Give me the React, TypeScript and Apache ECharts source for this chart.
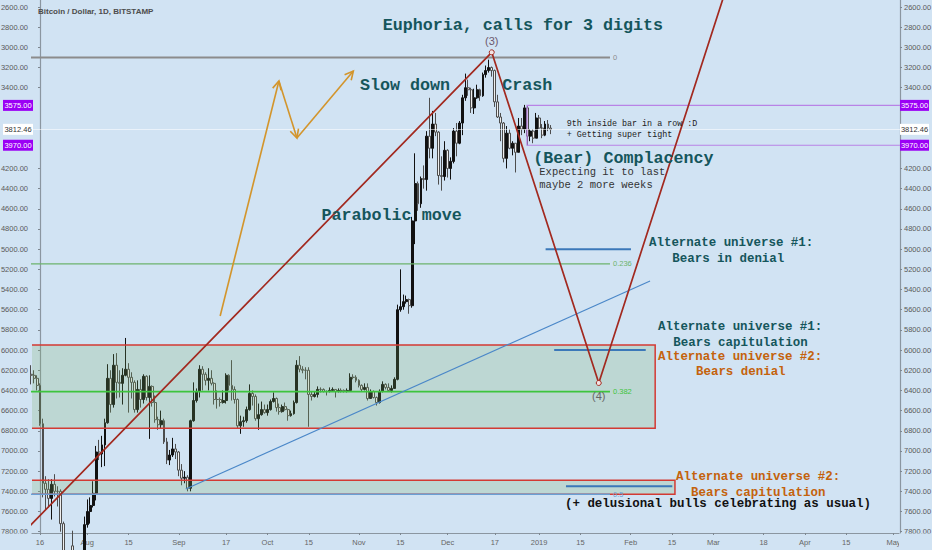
import React, { useEffect, useRef } from "react";
import * as echarts from "echarts";

// ---- scale (day 0 = 16 Jul 2018) ----
const X_MIN = -2.71;
const X_MAX = 291.2;
const Y_MIN = 2530.6;
const Y_MAX = 7812.9;

// ---- daily candles [open, close, low, high] ----
const julStartDay = -3; // 13 Jul 2018
const julOHLC = [
  [6240, 6250, 6150, 6340], [6250, 6280, 6200, 6330], [6280, 6350, 6250, 6400],
  [6350, 6730, 6330, 6750], [6730, 7320, 6680, 7460], [7320, 7380, 7250, 7580],
  [7380, 7470, 7280, 7560], [7470, 7330, 7280, 7680], [7330, 7400, 7230, 7450],
  [7400, 7400, 7350, 7550], [7400, 7720, 7380, 7800], [7720, 8400, 7700, 8480],
  [8400, 8170, 8050, 8480], [8170, 7940, 7860, 8300], [7940, 8190, 7790, 8280],
  [8190, 8230, 8100, 8250], [8230, 8210, 8130, 8300], [8210, 8170, 7860, 8260],
  [8170, 7730, 7650, 8180],
];
const augStartDay = 16;
const augOHLC = [
  [7730, 7600, 7480, 7760], [7600, 7540, 7460, 7720], [7540, 7420, 7300, 7560],
  [7420, 7010, 6950, 7490], [7010, 7030, 6890, 7090], [7030, 6940, 6850, 7160],
  [6940, 6720, 6680, 7150], [6720, 6280, 6140, 6730], [6280, 6540, 6200, 6620],
  [6540, 6150, 6040, 6570], [6150, 6320, 6030, 6480], [6320, 6330, 6200, 6470],
  [6330, 6250, 6180, 6540], [6250, 6190, 5880, 6260], [6190, 6270, 6130, 6620],
  [6270, 6320, 6220, 6480], [6320, 6590, 6300, 6620], [6590, 6390, 6300, 6620],
  [6390, 6490, 6290, 6570], [6490, 6260, 6240, 6530], [6260, 6470, 6250, 6500],
  [6470, 6360, 6250, 6880], [6360, 6520, 6350, 6560], [6520, 6690, 6450, 6720],
  [6690, 6740, 6660, 6790], [6740, 6700, 6600, 6780], [6700, 6910, 6680, 6930],
  [6910, 7090, 6870, 7130], [7090, 7040, 6990, 7140], [7040, 6980, 6870, 7060],
  [6980, 7010, 6930, 7080],
];
const sepStartDay = 47;
const sepOHLC = [
  [7010, 7190, 7000, 7250], [7190, 7270, 7130, 7340], [7270, 7260, 7200, 7320],
  [7260, 7370, 7240, 7400], [7370, 6700, 6690, 7400], [6700, 6500, 6320, 6710],
  [6500, 6410, 6380, 6520], [6410, 6190, 6150, 6470], [6190, 6240, 6160, 6400],
  [6240, 6300, 6220, 6350], [6300, 6280, 6180, 6400], [6280, 6330, 6200, 6350],
  [6330, 6490, 6320, 6540], [6490, 6490, 6400, 6580], [6490, 6520, 6470, 6560],
  [6520, 6500, 6400, 6530], [6500, 6250, 6230, 6530], [6250, 6350, 6240, 6400],
  [6350, 6390, 6100, 6500], [6390, 6490, 6360, 6530], [6490, 6750, 6480, 6780],
  [6750, 6710, 6650, 6830], [6710, 6700, 6660, 6760], [6700, 6590, 6560, 6720],
  [6590, 6430, 6340, 6600], [6430, 6460, 6400, 6550], [6460, 6680, 6440, 6700],
  [6680, 6640, 6530, 6790], [6640, 6590, 6510, 6650], [6590, 6620, 6540, 6630],
];
const octStartDay = 77;
const octOHLC = [
  [6620, 6590, 6540, 6650], [6590, 6510, 6490, 6600], [6510, 6480, 6420, 6520],
  [6480, 6570, 6470, 6610], [6570, 6610, 6530, 6640], [6610, 6560, 6540, 6620],
  [6560, 6590, 6520, 6600], [6590, 6650, 6580, 6700], [6650, 6630, 6600, 6660],
  [6630, 6520, 6500, 6640], [6520, 6150, 6100, 6530], [6150, 6190, 6060, 6220],
  [6190, 6200, 6160, 6230], [6200, 6200, 6170, 6290], [6200, 6440, 6170, 6760],
  [6440, 6460, 6410, 6500], [6460, 6440, 6410, 6470], [6440, 6390, 6360, 6470],
  [6390, 6390, 6370, 6420], [6390, 6410, 6380, 6420], [6410, 6410, 6400, 6450],
  [6410, 6400, 6370, 6420], [6400, 6390, 6370, 6410], [6390, 6410, 6390, 6470],
  [6410, 6400, 6380, 6420], [6400, 6400, 6380, 6420], [6400, 6410, 6390, 6420],
  [6410, 6400, 6380, 6420], [6400, 6270, 6230, 6410], [6270, 6270, 6240, 6290],
  [6270, 6300, 6250, 6320],
];
const novStartDay = 108;
const novOHLC = [
  [6300, 6350, 6290, 6370], [6350, 6390, 6340, 6410], [6390, 6370, 6330, 6400],
  [6370, 6480, 6330, 6500], [6480, 6410, 6390, 6480], [6410, 6470, 6400, 6480],
  [6470, 6520, 6460, 6550], [6520, 6410, 6390, 6530], [6410, 6340, 6310, 6420],
  [6340, 6370, 6330, 6390], [6370, 6400, 6330, 6410], [6400, 6380, 6350, 6420],
  [6380, 6290, 6270, 6380], [6290, 5600, 5550, 6300], [5600, 5570, 5200, 5620],
  [5570, 5520, 5450, 5600], [5520, 5500, 5460, 5540], [5500, 5560, 5490, 5640],
  [5560, 4720, 4680, 5580], [4720, 4350, 4050, 4950], [4350, 4550, 4330, 4620],
  [4550, 4300, 4280, 4590], [4300, 4310, 4170, 4400], [4310, 3880, 3830, 4420],
  [3880, 4000, 3500, 4100], [4000, 3760, 3630, 4100], [3760, 3840, 3650, 3880],
  [3840, 4270, 3830, 4360], [4270, 4280, 4080, 4420], [4280, 4020, 3930, 4320],
];
const decStartDay = 138;
const decOHLC = [
  [4020, 4200, 4010, 4290], [4200, 4130, 4090, 4310], [4130, 3830, 3800, 4150],
  [3830, 3950, 3750, 4080], [3950, 3750, 3730, 3960], [3750, 3500, 3470, 3870],
  [3500, 3400, 3260, 3530], [3400, 3420, 3320, 3480], [3420, 3600, 3400, 3650],
  [3600, 3500, 3410, 3660], [3500, 3420, 3370, 3510], [3420, 3480, 3410, 3530],
  [3480, 3270, 3250, 3490], [3270, 3230, 3180, 3300], [3230, 3200, 3122, 3250],
  [3200, 3230, 3190, 3290], [3230, 3540, 3220, 3590], [3540, 3690, 3470, 3700],
  [3690, 3750, 3650, 3930], [3750, 4100, 3740, 4140], [4100, 3850, 3780, 4200],
  [3850, 4000, 3810, 4010], [4000, 3950, 3930, 4070], [3950, 4040, 3950, 4240],
  [4040, 3780, 3700, 4040], [3780, 3810, 3700, 3870], [3810, 3600, 3570, 3850],
  [3600, 3880, 3575, 3970], [3880, 3830, 3810, 3930], [3830, 3900, 3810, 3950],
  [3900, 3700, 3650, 3900],
];
const janStartDay = 169;
const janOHLC = [
  [3700, 3800, 3670, 3810], [3800, 3870, 3760, 3900], [3870, 3760, 3730, 3880],
  [3760, 3800, 3720, 3830], [3800, 3812.46, 3770, 3860],
];

// ---- axes ----
const xTickDays = [0, 16, 30, 47, 63, 77, 91, 108, 122, 138, 154, 169, 183, 200, 214, 228, 245, 259, 273, 289];
const xTickLabels = ["16", "Aug", "15", "Sep", "17", "Oct", "15", "Nov", "15", "Dec", "17", "2019", "15", "Feb", "15", "Mar", "18", "Apr", "15", "May"];
const yTickValues = [2600, 2800, 3000, 3200, 3400, 4200, 4400, 4600, 4800, 5000, 5200, 5400, 5600, 5800, 6000, 6200, 6400, 6600, 6800, 7000, 7200, 7400, 7600, 7800];

// ---- drawings ----
const fibLabels = ["0", "0.236", "0.382", "0.5"];
const fibPrices = [3100, 5146, 6412, 7430];
const fibStartDay = -20;
const fibEndDay = 193.0;

const waveDays = [-10, 152.96, 189.2, 234.4];
const wavePrices = [7940, 3049, 6326, 2233];
const waveLabels = ["", "(3)", "(4)", ""];

const trendDays = [49.34, 206.57];
const trendPrices = [7377, 5315];

const targetPrices = [5000, 6000, 7350];
const targetFromDays = [171.2, 174.1, 178.1];
const targetToDays = [200.1, 205.1, 214.1];

const zoneFromDays = [-30, -30, 164.9];
const zoneToDays = [208.3, 215.0, 300];
const zoneTopPrices = [5950, 7290, 3575];
const zoneBottomPrices = [6775, 7430, 3970];

const swingDays = [61.0, 80.9, 87.0, 106.1];
const swingPrices = [5662, 3333, 3898, 3234];

const lastPrice = 3812.46;
const boxPrices = [3575, 3970];

// ---- styles ----
const BG = "#d1e3f3";
const SANS = '"Liberation Sans Narrow", "Liberation Sans", Arial, sans-serif';
const MONO = '"Liberation Mono", "DejaVu Sans Mono", monospace';
const TEAL = "#15565c";
const ORANGE_TXT = "#c4620c";
const AXIS_TXT = "#5a5a5a";
const fibColors = ["#8c8c8c", "#6db36d", "#3dc43d", "#6a9fd4"];
const fibWidths = [2, 1.2, 1.6, 1.5];
const zoneFills = ["rgba(120,175,100,0.22)", "rgba(120,175,100,0.22)", "rgba(0,0,0,0)"];
const zoneStrokes = ["#d33a33", "#d33a33", "#b983e6"];
const zoneWidths = [1.5, 1.5, 1.2];

const notes = [
  { text: "Euphoria, calls for 3 digits", x: 382.7, y: 25, size: 16.7, color: TEAL, bold: true },
  { text: "Slow down", x: 360, y: 85.7, size: 16.7, color: TEAL, bold: true },
  { text: "Crash", x: 502.3, y: 85.7, size: 16.7, color: TEAL, bold: true },
  { text: "Parabolic move", x: 321.5, y: 215, size: 16.7, color: TEAL, bold: true },
  { text: "(Bear) Complacency", x: 533.3, y: 158.3, size: 16.7, color: TEAL, bold: true },
  { text: "Expecting it to last", x: 539.3, y: 171.7, size: 10.5, color: "#333333", bold: false },
  { text: "maybe 2 more weeks", x: 539.3, y: 185, size: 10.5, color: "#333333", bold: false },
  { text: "9th inside bar in a row :D", x: 566.7, y: 124.3, size: 8.4, color: "#222222", bold: false },
  { text: "+ Getting super tight", x: 566.7, y: 135, size: 8.4, color: "#222222", bold: false },
  { text: "Alternate universe #1:", x: 649, y: 243.3, size: 12.45, color: TEAL, bold: true },
  { text: "Bears in denial", x: 672.3, y: 259.3, size: 12.45, color: TEAL, bold: true },
  { text: "Alternate universe #1:", x: 658, y: 326.7, size: 12.45, color: TEAL, bold: true },
  { text: "Bears capitulation", x: 673.3, y: 342.7, size: 12.45, color: TEAL, bold: true },
  { text: "Alternate universe #2:", x: 658, y: 356.7, size: 12.45, color: ORANGE_TXT, bold: true },
  { text: "Bears denial", x: 696, y: 372.3, size: 12.45, color: ORANGE_TXT, bold: true },
  { text: "Alternate universe #2:", x: 676, y: 476.7, size: 12.45, color: ORANGE_TXT, bold: true },
  { text: "Bears capitulation", x: 691, y: 492.7, size: 12.45, color: ORANGE_TXT, bold: true },
  { text: "(+ delusional bulls celebrating as usual)", x: 565, y: 504, size: 12.45, color: "#111111", bold: true },
];

function buildCandles() {
  const blocks: [number, number[][]][] = [
    [julStartDay, julOHLC], [augStartDay, augOHLC], [sepStartDay, sepOHLC],
    [octStartDay, octOHLC], [novStartDay, novOHLC], [decStartDay, decOHLC],
    [janStartDay, janOHLC],
  ];
  const out: number[][] = [];
  blocks.forEach(([start, rows]) => rows.forEach((r, i) => out.push([start + i, r[0], r[1], r[2], r[3]])));
  return out;
}

function buildOption(): any {
  const series: any[] = [];

  series.push({
    type: "candlestick",
    name: "BTCUSD",
    data: buildCandles(),
    encode: { x: 0, y: [1, 2, 3, 4] },
    barWidth: 2.4,
    z: 2,
    silent: true,
    itemStyle: {
      color: "#efefef",
      color0: "#111111",
      borderColor: "#4d4d4d",
      borderColor0: "#111111",
      borderWidth: 1,
    },
    markLine: {
      silent: true,
      symbol: "none",
      label: { show: false },
      lineStyle: { color: "rgba(255,255,255,0.55)", type: "solid", width: 1 },
      data: [{ yAxis: lastPrice }],
    },
  });

  series.push({
    type: "custom",
    name: "zones",
    clip: true,
    silent: true,
    z: 3,
    encode: { x: [0, 2], y: [1, 3] },
    data: zoneFromDays.map((d, i) => [d, zoneTopPrices[i], zoneToDays[i], zoneBottomPrices[i]]),
    renderItem: (params: any, api: any) => {
      const a = api.coord([api.value(0), api.value(1)]);
      const b = api.coord([api.value(2), api.value(3)]);
      const i = params.dataIndex;
      return {
        type: "rect",
        shape: {
          x: Math.min(a[0], b[0]),
          y: Math.min(a[1], b[1]),
          width: Math.abs(b[0] - a[0]),
          height: Math.abs(b[1] - a[1]),
        },
        style: { fill: zoneFills[i], stroke: zoneStrokes[i], lineWidth: zoneWidths[i] },
      };
    },
  });

  fibPrices.forEach((p, i) => {
    series.push({
      type: "line",
      name: "fib " + fibLabels[i],
      data: [[fibStartDay, p], [fibEndDay, p]],
      symbol: "none",
      silent: true,
      z: 4,
      lineStyle: { color: fibColors[i], width: fibWidths[i] },
      endLabel: {
        show: true,
        formatter: fibLabels[i],
        color: fibColors[i],
        fontSize: 7.5,
        fontFamily: SANS,
        distance: 3,
      },
    });
  });

  series.push({
    type: "line",
    name: "trend",
    data: trendDays.map((d, i) => [d, trendPrices[i]]),
    symbol: "none",
    silent: true,
    z: 4,
    lineStyle: { color: "#4a87c8", width: 1.1 },
  });

  targetPrices.forEach((p, i) => {
    series.push({
      type: "line",
      name: "target " + i,
      data: [[targetFromDays[i], p], [targetToDays[i], p]],
      symbol: "none",
      silent: true,
      z: 4,
      lineStyle: { color: "#3b78b9", width: 2 },
    });
  });

  series.push({
    type: "line",
    name: "wave",
    showSymbol: true,
    showAllSymbol: true,
    silent: true,
    z: 5,
    lineStyle: { color: "#a2291f", width: 1.7 },
    itemStyle: { color: "#f3e3e3", borderColor: "#a2291f", borderWidth: 1 },
    data: waveDays.map((d, i) => ({
      value: [d, wavePrices[i]],
      symbol: waveLabels[i] ? "circle" : "none",
      symbolSize: 5,
      label: waveLabels[i]
        ? {
            show: true,
            formatter: waveLabels[i],
            position: i === 1 ? "top" : "bottom",
            distance: i === 1 ? 3 : 5,
            color: i === 1 ? "#6d586d" : "#666666",
            fontSize: 11,
            fontFamily: '"Liberation Sans", sans-serif',
          }
        : { show: false },
    })),
  });

  const arrowData: number[][] = [];
  for (let i = 0; i < swingDays.length - 1; i++) {
    arrowData.push([swingDays[i], swingPrices[i], swingDays[i + 1], swingPrices[i + 1]]);
  }
  series.push({
    type: "custom",
    name: "arrows",
    clip: true,
    silent: true,
    z: 5,
    encode: { x: [0, 2], y: [1, 3] },
    data: arrowData,
    renderItem: (params: any, api: any) => {
      const a = api.coord([api.value(0), api.value(1)]);
      const b = api.coord([api.value(2), api.value(3)]);
      const ang = Math.atan2(b[1] - a[1], b[0] - a[0]);
      const L = 9.5;
      const spread = (27 * Math.PI) / 180;
      const h1 = [b[0] - L * Math.cos(ang - spread), b[1] - L * Math.sin(ang - spread)];
      const h2 = [b[0] - L * Math.cos(ang + spread), b[1] - L * Math.sin(ang + spread)];
      const style = { stroke: "#d3952c", lineWidth: 1.6, fill: "none" };
      return {
        type: "group",
        children: [
          { type: "line", shape: { x1: a[0], y1: a[1], x2: b[0], y2: b[1] }, style },
          { type: "polyline", shape: { points: [h1, b, h2] }, style },
        ],
      };
    },
  });

  const yAxisBase = (pos: "left" | "right") => ({
    type: "value",
    position: pos,
    inverse: true,
    min: Y_MIN,
    max: Y_MAX,
    splitLine: { show: false },
    axisLine: { show: true, lineStyle: { color: "#8b96a0", width: 1.2 } },
    axisTick: { show: true, length: 2, customValues: yTickValues, lineStyle: { color: "#7d8790" } },
    axisLabel: {
      customValues: yTickValues,
      formatter: (v: number) => v.toFixed(2),
      color: AXIS_TXT,
      fontSize: 7.5,
      fontFamily: SANS,
      margin: 4,
    },
  });

  return {
    animation: false,
    backgroundColor: BG,
    grid: { left: 32, right: 32, top: 0, bottom: 17, containLabel: false, outerBoundsMode: "none" },
    xAxis: {
      type: "value",
      min: X_MIN,
      max: X_MAX,
      splitLine: { show: false },
      axisLine: { show: true, onZero: false, lineStyle: { color: "#8b96a0", width: 1.2 } },
      axisTick: { show: true, length: 2, customValues: xTickDays, lineStyle: { color: "#7d8790" } },
      axisLabel: {
        customValues: xTickDays,
        formatter: (v: number) => {
          const i = xTickDays.indexOf(Math.round(v));
          return i >= 0 ? xTickLabels[i] : "";
        },
        color: "#666666",
        fontSize: 7.5,
        fontFamily: SANS,
        margin: 5,
      },
    },
    yAxis: [yAxisBase("left"), yAxisBase("right")],
    series,
  };
}

function buildGraphic(yPix: (p: number) => number): any[] {
  const g: any[] = [];
  g.push({
    type: "text",
    x: 38,
    y: 11,
    z: 50,
    style: {
      text: "Bitcoin / Dollar, 1D, BITSTAMP",
      fill: "#4d4d4d",
      fontSize: 8,
      fontWeight: "bold",
      fontFamily: SANS,
      align: "left",
      verticalAlign: "middle",
      textAlign: "left",
      textVerticalAlign: "middle",
    },
  });
  notes.forEach((n) => {
    g.push({
      type: "text",
      x: n.x,
      y: n.y,
      z: 50,
      silent: true,
      style: {
        text: n.text,
        fill: n.color,
        fontSize: n.size,
        fontWeight: n.bold ? "bold" : "normal",
        fontFamily: MONO,
        align: "left",
        verticalAlign: "middle",
        textAlign: "left",
        textVerticalAlign: "middle",
      },
    });
  });
  const badges = [
    { price: boxPrices[0], bg: "#9b00f5", fg: "#ffffff" },
    { price: lastPrice, bg: "#ffffff", fg: "#333333" },
    { price: boxPrices[1], bg: "#9b00f5", fg: "#ffffff" },
  ];
  badges.forEach((b) => {
    const y = yPix(b.price);
    [[3, 30], [900, 29]].forEach(([bx, bw]) => {
      g.push({ type: "rect", z: 60, shape: { x: bx, y: y - 5.5, width: bw, height: 11 }, style: { fill: b.bg } });
      g.push({
        type: "text",
        x: bx + bw / 2,
        y,
        z: 61,
        style: {
          text: b.price.toFixed(2),
          fill: b.fg,
          fontSize: 7.5,
          fontFamily: SANS,
          align: "center",
          verticalAlign: "middle",
          textAlign: "center",
          textVerticalAlign: "middle",
        },
      });
    });
  });
  g.push({ type: "rect", z: 55, shape: { x: 0, y: 533.6, width: 31, height: 17 }, style: { fill: BG } });
  g.push({ type: "rect", z: 55, shape: { x: 899, y: 533.6, width: 33, height: 17 }, style: { fill: BG } });
  return g;
}

export default function App() {
  const ref = useRef<HTMLDivElement>(null);
  useEffect(() => {
    if (!ref.current) return;
    const chart = echarts.init(ref.current, undefined, { renderer: "svg" });
    chart.setOption(buildOption());
    const yPix = (p: number) => chart.convertToPixel({ yAxisIndex: 0 }, p) as unknown as number;
    chart.setOption({ graphic: buildGraphic(yPix) });
    return () => chart.dispose();
  }, []);
  return (
    <div
      ref={ref}
      style={{ position: "fixed", left: 0, top: 0, width: 932, height: 550, background: BG }}
    />
  );
}
